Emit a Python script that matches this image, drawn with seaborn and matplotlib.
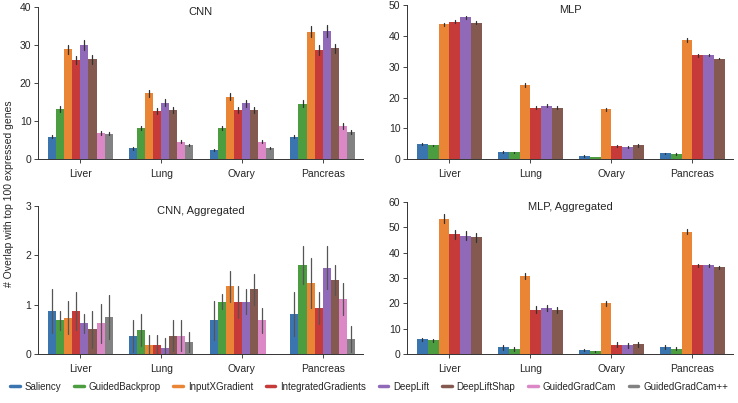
import numpy as np
import pandas as pd
import matplotlib
matplotlib.use("Agg")
import matplotlib.pyplot as plt
import seaborn as sns
from matplotlib.lines import Line2D

tissues = ["Liver", "Lung", "Ovary", "Pancreas"]
methods_all = ["Saliency", "GuidedBackprop", "InputXGradient", "IntegratedGradients",
               "DeepLift", "DeepLiftShap", "GuidedGradCam", "GuidedGradCam++"]
methods_mlp = methods_all[:6]
colors = ["#3a75b0", "#4b9d3f", "#ea8536", "#c63a3a", "#9069b8", "#84594f", "#dc88c6", "#828282"]

# values per method, ordered by tissues (Liver, Lung, Ovary, Pancreas)
cnn_vals = {
    "Saliency": [5.8, 2.8, 2.3, 5.9],
    "GuidedBackprop": [13.2, 8.1, 8.1, 14.6],
    "InputXGradient": [28.9, 17.3, 16.4, 33.5],
    "IntegratedGradients": [26.0, 12.6, 13.0, 28.8],
    "DeepLift": [29.9, 14.8, 14.7, 33.7],
    "DeepLiftShap": [26.2, 12.9, 13.0, 29.1],
    "GuidedGradCam": [6.8, 4.6, 4.5, 8.6],
    "GuidedGradCam++": [6.7, 3.7, 2.9, 7.0],
}
cnn_err = {
    "Saliency": [0.4, 0.4, 0.3, 0.5],
    "GuidedBackprop": [0.7, 0.6, 0.6, 0.9],
    "InputXGradient": [1.2, 0.9, 1.0, 1.4],
    "IntegratedGradients": [1.1, 0.8, 0.8, 1.3],
    "DeepLift": [1.3, 0.9, 0.9, 1.5],
    "DeepLiftShap": [1.1, 0.8, 0.8, 1.3],
    "GuidedGradCam": [0.6, 0.4, 0.4, 0.8],
    "GuidedGradCam++": [0.5, 0.3, 0.3, 0.5],
}
mlp_vals = {
    "Saliency": [4.9, 2.4, 1.0, 1.9],
    "GuidedBackprop": [4.4, 2.2, 0.6, 1.6],
    "InputXGradient": [43.8, 24.0, 16.2, 38.7],
    "IntegratedGradients": [44.7, 16.7, 4.2, 33.7],
    "DeepLift": [46.1, 17.3, 3.9, 33.8],
    "DeepLiftShap": [44.4, 16.7, 4.4, 32.7],
}
mlp_err = {
    "Saliency": [0.3, 0.3, 0.2, 0.2],
    "GuidedBackprop": [0.3, 0.2, 0.1, 0.2],
    "InputXGradient": [0.6, 0.6, 0.5, 0.7],
    "IntegratedGradients": [0.5, 0.5, 0.4, 0.4],
    "DeepLift": [0.5, 0.5, 0.4, 0.4],
    "DeepLiftShap": [0.5, 0.5, 0.4, 0.3],
}
cnn_agg_vals = {
    "Saliency": [0.87, 0.37, 0.68, 0.81],
    "GuidedBackprop": [0.68, 0.49, 1.06, 1.81],
    "InputXGradient": [0.74, 0.18, 1.37, 1.44],
    "IntegratedGradients": [0.87, 0.18, 1.06, 0.93],
    "DeepLift": [0.62, 0.12, 1.06, 1.75],
    "DeepLiftShap": [0.50, 0.37, 1.31, 1.50],
    "GuidedGradCam": [0.62, 0.37, 0.68, 1.12],
    "GuidedGradCam++": [0.75, 0.25, 0.0, 0.30],
}
cnn_agg_err = {
    "Saliency": [0.44, 0.32, 0.39, 0.44],
    "GuidedBackprop": [0.19, 0.33, 0.15, 0.39],
    "InputXGradient": [0.33, 0.20, 0.31, 0.51],
    "IntegratedGradients": [0.38, 0.20, 0.32, 0.32],
    "DeepLift": [0.20, 0.20, 0.25, 0.44],
    "DeepLiftShap": [0.38, 0.31, 0.31, 0.31],
    "GuidedGradCam": [0.39, 0.31, 0.25, 0.32],
    "GuidedGradCam++": [0.45, 0.20, 0.0, 0.26],
}
mlp_agg_vals = {
    "Saliency": [5.9, 2.6, 1.4, 2.6],
    "GuidedBackprop": [5.5, 2.1, 1.0, 2.0],
    "InputXGradient": [53.5, 30.8, 20.0, 48.2],
    "IntegratedGradients": [47.3, 17.4, 3.7, 35.1],
    "DeepLift": [46.7, 18.1, 3.4, 35.0],
    "DeepLiftShap": [46.1, 17.3, 3.9, 34.3],
}
mlp_agg_err = {
    "Saliency": [0.6, 0.9, 0.4, 0.8],
    "GuidedBackprop": [0.6, 0.8, 0.3, 0.6],
    "InputXGradient": [1.8, 1.2, 0.9, 1.0],
    "IntegratedGradients": [1.8, 1.4, 1.0, 0.6],
    "DeepLift": [1.8, 1.2, 1.0, 0.6],
    "DeepLiftShap": [1.8, 1.2, 1.0, 0.6],
}

sns.set_style("ticks")
plt.rcParams["font.family"] = ["Liberation Sans", "DejaVu Sans"]
plt.rcParams["font.size"] = 7.5

palette = dict(zip(methods_all, colors))

fig = plt.figure(figsize=(7.38, 4.03), dpi=100)
positions = {
    "tl": [0.052, 0.6055, 0.440, 0.377],
    "tr": [0.552, 0.6055, 0.441, 0.381],
    "bl": [0.052, 0.1216, 0.440, 0.367],
    "br": [0.552, 0.1216, 0.441, 0.377],
}


def panel(key, vals, errs, methods, title, ymax, yticks, errcolor):
    ax = fig.add_axes(positions[key])
    rows = []
    for m in methods:
        for t, v, e in zip(tissues, vals[m], errs[m]):
            rows.append({"tissue": t, "method": m, "value": v, "err": e})
    df = pd.DataFrame(rows)
    sns.barplot(data=df, x="tissue", y="value", hue="method", order=tissues,
                hue_order=methods, palette=palette, errorbar=None, ax=ax,
                legend=False, saturation=1, linewidth=0)
    for m, cont in zip(methods, ax.containers):
        for bar, e in zip(cont, errs[m]):
            if e <= 0:
                continue
            xc = bar.get_x() + bar.get_width() / 2
            h = bar.get_height()
            ax.plot([xc, xc], [h - e, h + e], color=errcolor, lw=0.9, zorder=3)
    ax.set_ylim(0, ymax)
    ax.set_yticks(yticks)
    ax.set_xlim(-0.52, 3.5)
    ax.set_xlabel("")
    ax.set_ylabel("")
    ax.text(0.5, 1.0, title, transform=ax.transAxes, ha="center", va="top",
            fontsize=8)
    sns.despine(ax=ax)
    ax.tick_params(axis="both", labelsize=7.5, length=3, width=0.6, pad=2)
    ax.tick_params(axis="x", pad=4)
    for s in ["left", "bottom"]:
        ax.spines[s].set_linewidth(0.7)
        ax.spines[s].set_color("#333333")
    return ax


panel("tl", cnn_vals, cnn_err, methods_all, "CNN", 40, [0, 10, 20, 30, 40], "#333333")
panel("tr", mlp_vals, mlp_err, methods_mlp, "MLP", 50, [0, 10, 20, 30, 40, 50], "#333333")
panel("bl", cnn_agg_vals, cnn_agg_err, methods_all, "CNN, Aggregated", 3, [0, 1, 2, 3], "#555555")
panel("br", mlp_agg_vals, mlp_agg_err, methods_mlp, "MLP, Aggregated", 60,
      [0, 10, 20, 30, 40, 50, 60], "#333333")

fig.text(0.012, 0.52, "# Overlap with top 100 expressed genes", rotation=90,
         ha="center", va="center", fontsize=7.5)

handles = [Line2D([0], [0], color=c, lw=2.5) for c in colors]
fig.legend(handles, methods_all, loc="center", bbox_to_anchor=(0.5, 0.04),
           ncol=8, frameon=False, fontsize=7, handlelength=1.0,
           handletextpad=0.5, columnspacing=1.3)

fig.savefig("out.png", dpi=100)
